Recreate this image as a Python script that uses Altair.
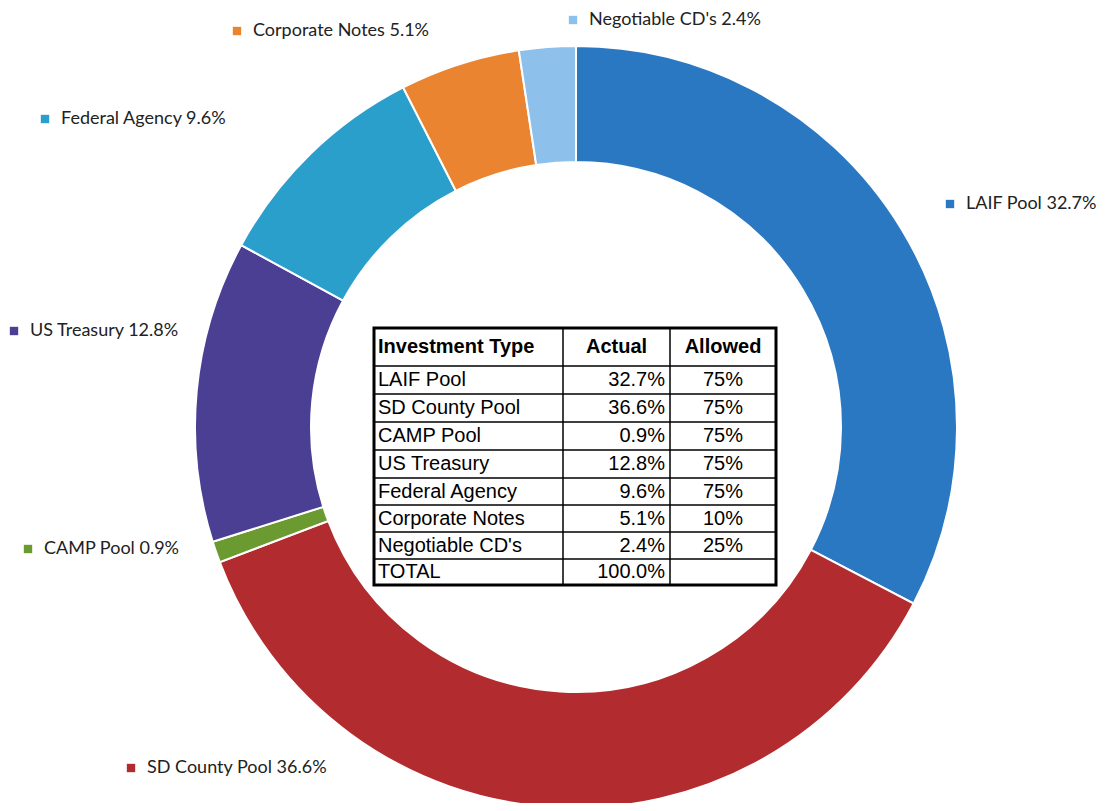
import altair as alt
import pandas as pd

# ---------------- data ----------------
categories = ["LAIF Pool", "SD County Pool", "CAMP Pool", "US Treasury",
              "Federal Agency", "Corporate Notes", "Negotiable CD's"]
actual_pct = [32.7, 36.6, 0.9, 12.8, 9.6, 5.1, 2.4]
allowed_pct = ["75%", "75%", "75%", "75%", "75%", "10%", "25%"]
total_actual = "100.0%"
table_header = ["Investment Type", "Actual", "Allowed"]
colors = ["#2a78c2", "#b22b2f", "#6b9a30", "#4b3f93",
          "#2b9fcb", "#ea8430", "#8ec0ec"]

# ---------------- layout ----------------
W, H = 1091, 795
M = 8  # page margin
CX, CY = 576 - M, 427 - M
R_OUT, R_IN = 381, 265
# marker centres of the outside labels (page pixels)
label_anchor = [(950, 204), (131, 768), (28, 549), (14, 331),
                (45, 119), (237, 31), (573, 20)]
# table geometry (page pixels)
col_edges = [374, 563, 670, 776]
row_edges = [328, 366, 394, 422, 450, 478, 505, 532, 559, 585]

XS = alt.Scale(domain=[0, W], range=[0, W], nice=False, zero=False)
YS = alt.Scale(domain=[0, H], range=[0, H], nice=False, zero=False)
color_scale = alt.Scale(domain=categories, range=colors)

# ---------------- donut ----------------
pie_df = pd.DataFrame({"cat": categories, "value": actual_pct,
                       "idx": list(range(len(categories)))})
donut = alt.Chart(pie_df).mark_arc(
    innerRadius=R_IN, outerRadius=R_OUT, stroke="white", strokeWidth=2
).encode(
    theta=alt.Theta("value:Q", stack=True),
    color=alt.Color("cat:N", scale=color_scale, legend=None),
    order=alt.Order("idx:Q"),
    x=alt.value(CX), y=alt.value(CY),
)

# ---------------- outside labels ----------------
lab_df = pd.DataFrame({
    "cat": categories,
    "label": [f"{c} {v:.1f}%" for c, v in zip(categories, actual_pct)],
    "mx": [a[0] - M for a in label_anchor],
    "tx": [a[0] - M + 16 for a in label_anchor],
    "my": [a[1] - M for a in label_anchor],
})
markers = alt.Chart(lab_df).mark_square(size=70, opacity=1, filled=True).encode(
    x=alt.X("mx:Q", scale=XS, axis=None),
    y=alt.Y("my:Q", scale=YS, axis=None),
    color=alt.Color("cat:N", scale=color_scale, legend=None),
)
labels = alt.Chart(lab_df).mark_text(
    align="left", baseline="middle", font="Lato", fontSize=18, color="#222222"
).encode(
    x=alt.X("tx:Q", scale=XS, axis=None),
    y=alt.Y("my:Q", scale=YS, axis=None),
    text="label:N",
)

# ---------------- table ----------------
def rc(r):
    return (row_edges[r] + row_edges[r + 1]) / 2 - M

hl_df = pd.DataFrame({"y": [e - M for e in row_edges[1:-1]],
                      "x0": col_edges[0] - M, "x1": col_edges[-1] - M})
vl_df = pd.DataFrame({"x": [e - M for e in col_edges[1:-1]],
                      "y0": row_edges[0] - M, "y1": row_edges[-1] - M})
box_df = pd.DataFrame({"x0": [col_edges[0] - M], "x1": [col_edges[-1] - M],
                       "y0": [row_edges[0] - M], "y1": [row_edges[-1] - M]})

hlines = alt.Chart(hl_df).mark_rule(color="black", strokeWidth=1.5).encode(
    x=alt.X("x0:Q", scale=XS, axis=None), x2="x1:Q",
    y=alt.Y("y:Q", scale=YS, axis=None),
)
vlines = alt.Chart(vl_df).mark_rule(color="black", strokeWidth=1.5).encode(
    x=alt.X("x:Q", scale=XS, axis=None),
    y=alt.Y("y0:Q", scale=YS, axis=None), y2="y1:Q",
)
box = alt.Chart(box_df).mark_rect(fill="white", stroke="black", strokeWidth=3).encode(
    x=alt.X("x0:Q", scale=XS, axis=None), x2="x1:Q",
    y=alt.Y("y0:Q", scale=YS, axis=None), y2="y1:Q",
)

names_col = categories + ["TOTAL"]
actual_col = [f"{v:.1f}%" for v in actual_pct] + [total_actual]
allowed_col = allowed_pct

left_df = pd.DataFrame({"t": names_col, "x": col_edges[0] + 4 - M,
                        "y": [rc(i + 1) for i in range(len(names_col))]})
right_df = pd.DataFrame({"t": actual_col, "x": col_edges[2] - 5 - M,
                         "y": [rc(i + 1) for i in range(len(actual_col))]})
cen_df = pd.DataFrame({"t": allowed_col, "x": (col_edges[2] + col_edges[3]) / 2 - M,
                       "y": [rc(i + 1) for i in range(len(allowed_col))]})
head_l_df = pd.DataFrame({"t": [table_header[0]], "x": [col_edges[0] + 4 - M], "y": [rc(0)]})
head_c_df = pd.DataFrame({"t": table_header[1:],
                          "x": [(col_edges[1] + col_edges[2]) / 2 - M,
                                (col_edges[2] + col_edges[3]) / 2 - M],
                          "y": [rc(0), rc(0)]})

def tlayer(df, align, weight="normal"):
    return alt.Chart(df).mark_text(
        align=align, baseline="middle", font="Liberation Sans",
        fontSize=20, fontWeight=weight, color="black"
    ).encode(
        x=alt.X("x:Q", scale=XS, axis=None),
        y=alt.Y("y:Q", scale=YS, axis=None),
        text="t:N",
    )

chart = alt.layer(
    donut, markers, labels, box, hlines, vlines,
    tlayer(left_df, "left"), tlayer(right_df, "right"), tlayer(cen_df, "center"),
    tlayer(head_l_df, "left", "bold"), tlayer(head_c_df, "center", "bold"),
).properties(
    width=W, height=H, autosize=alt.AutoSizeParams(type="none"), padding=0,
).configure_view(stroke=None)

chart.save("out.html", embed_options={"renderer": "svg", "actions": False})
